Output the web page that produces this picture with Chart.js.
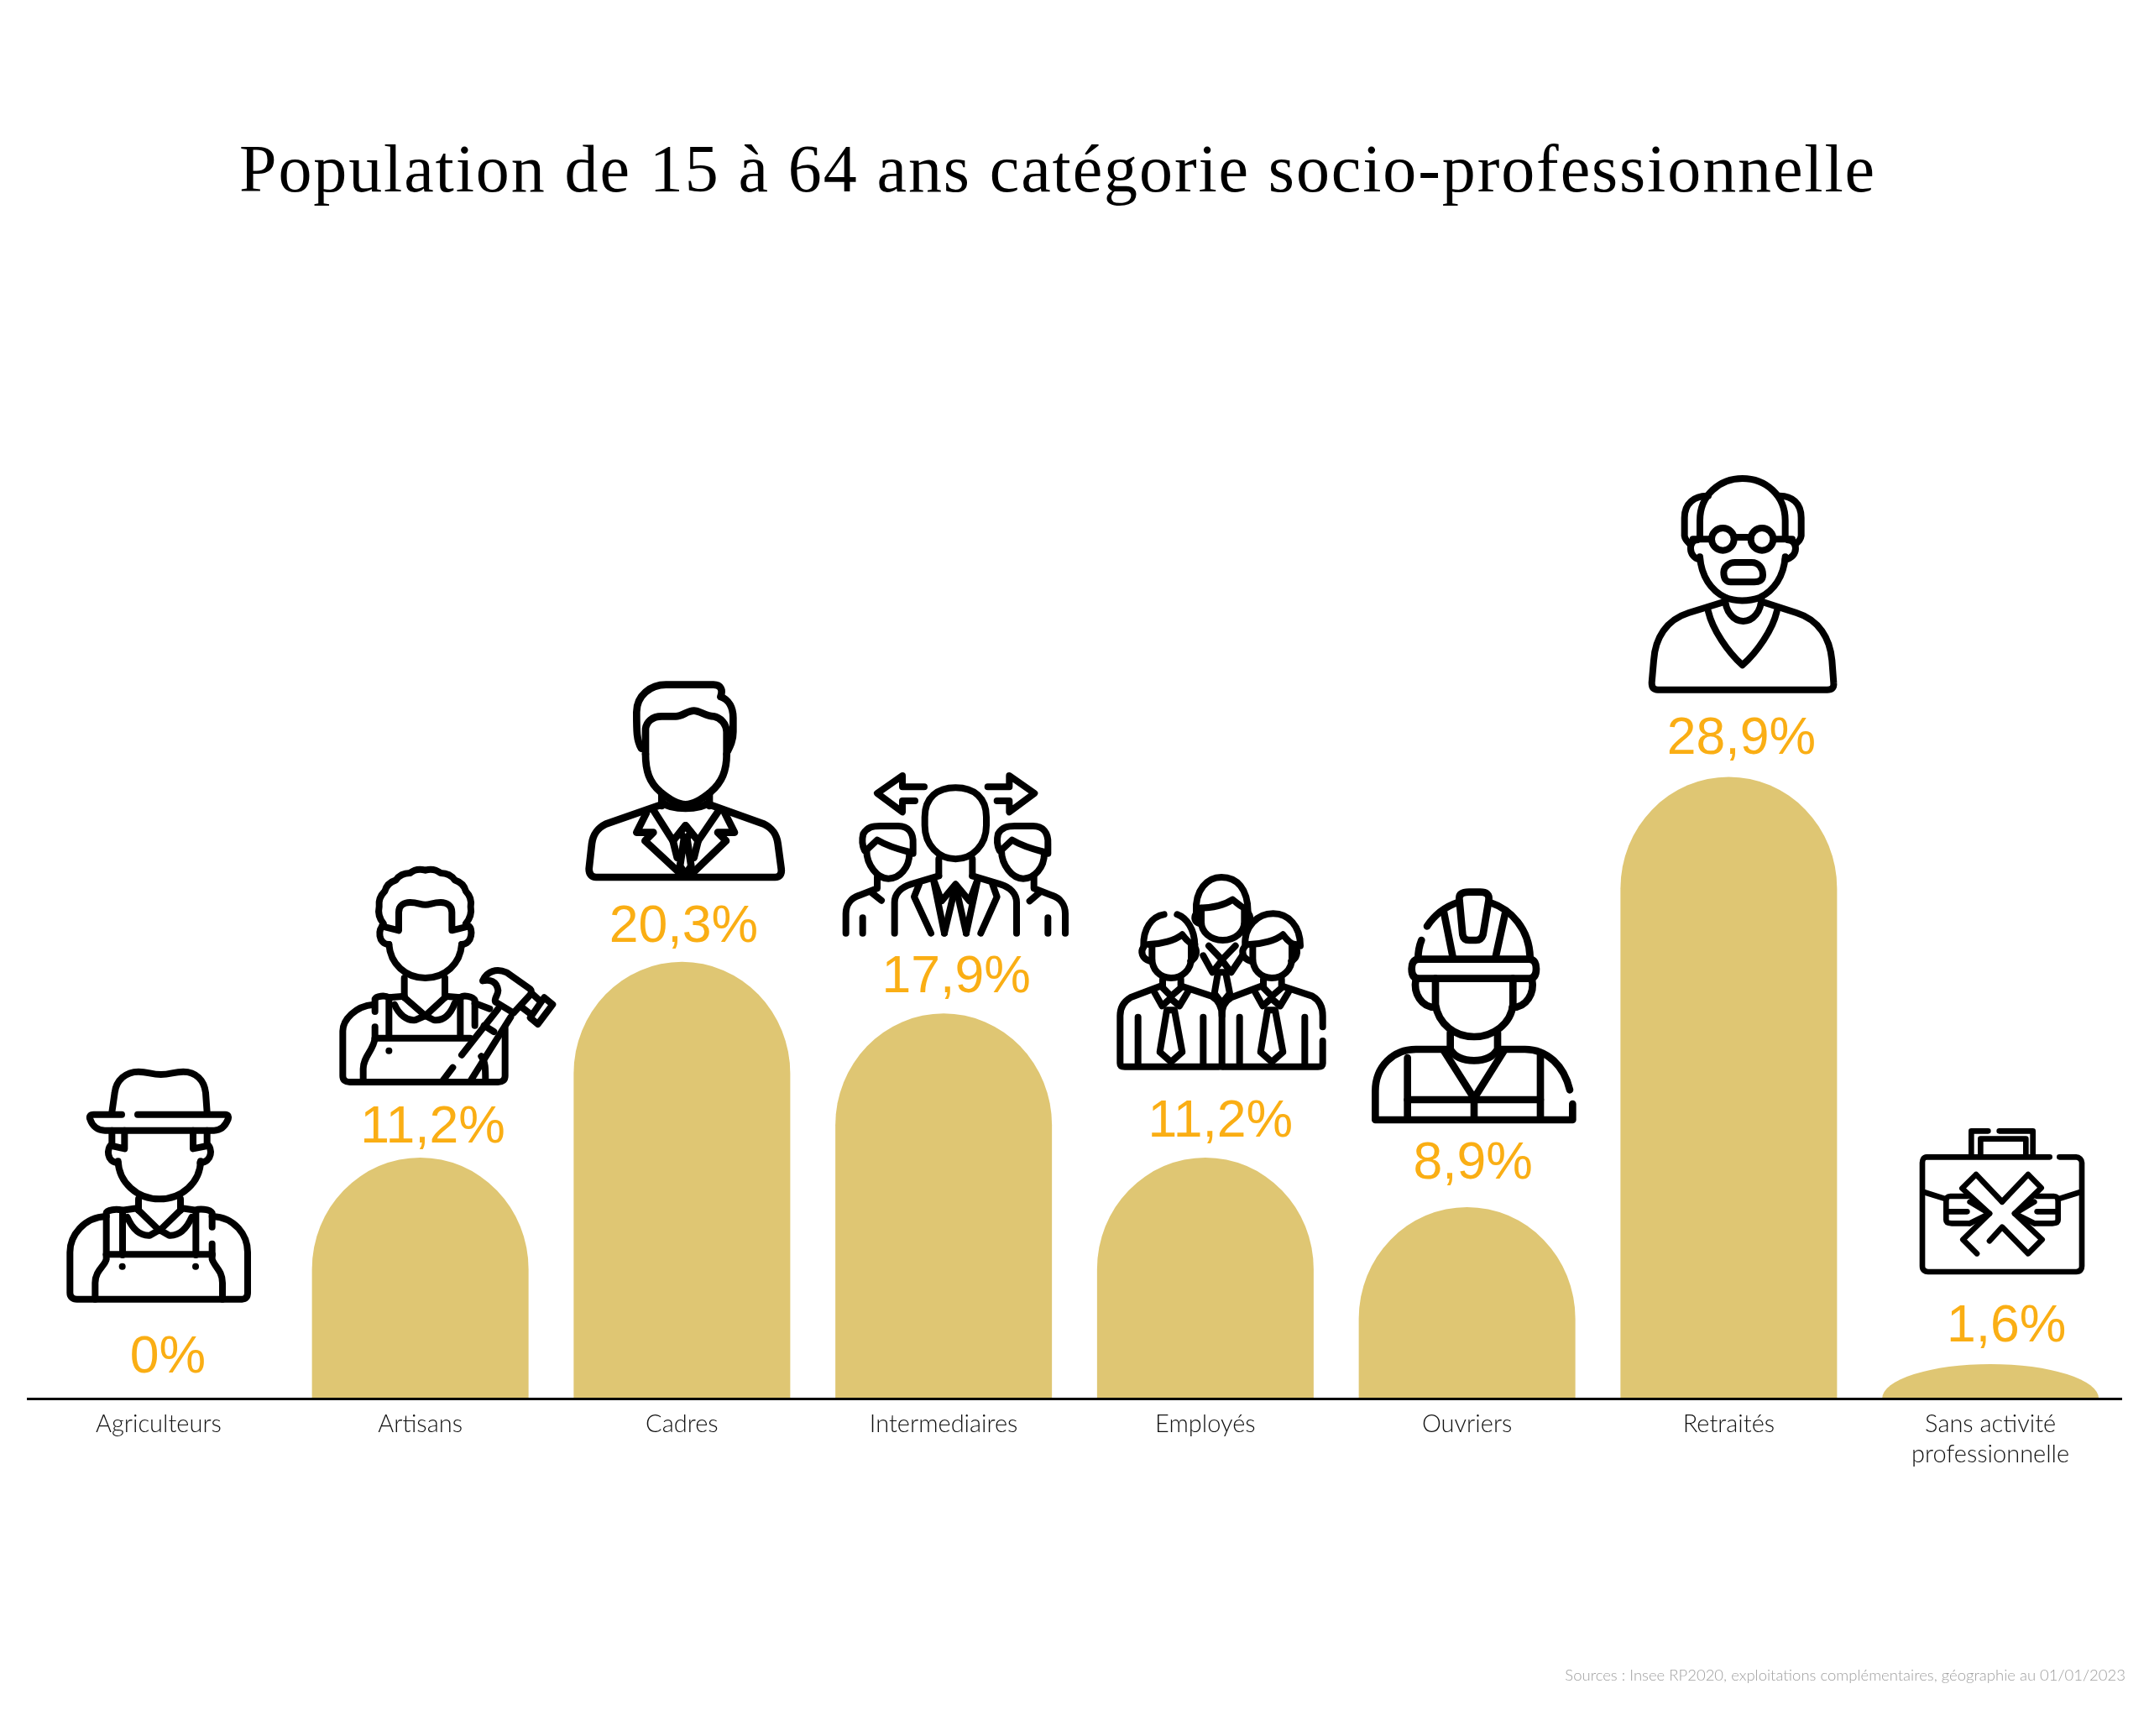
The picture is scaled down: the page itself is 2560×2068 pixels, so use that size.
<!DOCTYPE html>
<html lang="fr"><head><meta charset="utf-8">
<style>html,body{margin:0;padding:0;background:#fff}canvas{display:block}</style>
<script src="https://cdn.jsdelivr.net/npm/chart.js@4"></script>
</head><body><canvas id="c" width="2560" height="2068"></canvas>
<script>
const titleText = "Population de 15 à 64 ans catégorie socio-professionnelle";
const sourceText = "Sources : Insee RP2020, exploitations complémentaires, géographie au 01/01/2023";
const categories = ["Agriculteurs","Artisans","Cadres","Intermediaires","Employés","Ouvriers","Retraités",["Sans activité","professionnelle"]];
const shares = [0,11.2,20.3,17.9,11.2,8.9,28.9,1.6];

/* label placement relative to each bar */
const labelShiftX = [11,15,2,15,18,7,15,19];
const labelGapY = [31,18,24,25,25,34,27,27];

const GOLD="#DFC673", AMBER="#FAAE14";

/* line icons: crop origin on the page, drawn at 1/3 scale */
const icons = [
 {x:70,y:1265,lw:24,d:[
  "M190 180 L200 110 C205 65 240 35 285 35 C320 35 330 45 365 45 C400 45 410 35 445 35 C490 35 520 65 525 110 L530 180",
  "M225 188 H125 C112 188 108 195 112 205 C120 230 140 245 165 245 H555 C580 245 595 230 605 205 C608 195 605 188 595 188 H282",
  "M190 245 V300 L235 310 V245","M530 245 V300 L480 310 V245",
  "M190 295 C170 305 170 360 212 360","M530 295 C550 305 550 360 505 360",
  "M212 355 C215 430 280 490 360 490 C440 490 505 430 507 355",
  "M285 490 V530","M435 490 V530",
  "M285 530 L360 603 L435 530",
  "M245 555 C265 600 290 622 325 620 L355 603","M475 555 C455 600 430 622 395 620 L365 603",
  "M170 690 V540 C172 528 205 525 228 530 L285 522","M228 530 V690",
  "M435 522 L490 530 C500 525 540 525 548 540 V590","M490 530 V690","M548 650 V690",
  "M170 552 C90 555 40 620 40 680 V825 C40 840 50 848 65 848 H655 C668 848 675 840 675 825 V680 C675 620 630 555 548 552",
  "M170 688 H548",
  "M170 688 V705 C165 730 130 745 130 790 V848","M548 688 V705 C555 730 585 745 585 790 V848",
  "M227 731 h0.1","M489 731 h0.1"]},
 {x:400,y:1025,lw:24,d:[
  "M170 225 Q148 198 155 165 Q151 134 175 110 Q183 80 215 70 Q232 45 265 45 Q289 26 320 35 Q350 26 375 45 Q408 45 425 70 Q457 80 465 110 Q488 134 482 165 Q488 198 465 225",
  "M165 235 L225 250 V185 C225 160 245 150 265 150 C295 150 300 158 320 158 C340 158 345 150 375 150 C395 150 415 160 415 185 V250 L475 235",
  "M170 235 C150 240 150 300 190 300","M475 235 C490 240 490 300 450 300",
  "M190 300 C195 370 250 420 320 420 C390 420 445 370 450 300",
  "M245 420 V490","M390 420 V490",
  "M245 490 L320 555 L390 490",
  "M210 515 C225 550 255 575 285 570 L320 555","M425 510 C410 550 385 575 350 570 L320 555",
  "M140 540 V495 C145 485 175 480 190 490 L245 485","M190 490 V630","M140 595 V635",
  "M390 485 L445 490 C455 480 490 485 497 500 V590","M445 490 V630","M497 510 L550 530",
  "M135 515 C70 520 25 570 25 610 V770 C25 785 35 792 50 792 H580 C595 792 605 785 605 770 V600",
  "M140 635 H480",
  "M140 635 C135 680 98 700 98 745 V792",
  "M190 680 h0.1","M520 700 C535 720 535 740 535 792",
  "M580 530 L450 695","M418 740 L380 790","M625 560 L480 790","M530 590 L565 612",
  "M525 430 C540 395 575 385 610 400 L695 460 C700 465 700 470 695 480 L635 545 L570 505 C565 495 580 480 580 465 C575 430 550 425 525 430 Z",
  "M745 490 L775 515 L722 585 L695 562 Z","M700 475 L728 500","M665 525 L698 550"]},
 {x:690,y:805,lw:26,d:[
  "M222 260 C205 230 205 200 205 130 C205 70 255 32 310 32 H480 C505 32 515 50 505 75 C535 85 550 115 550 150 V200 C550 230 540 250 530 270",
  "M237 280 V190 C240 165 260 145 295 145 H345 C370 145 385 125 410 125 C430 125 455 145 480 145 C505 150 525 170 527 200 V280",
  "M237 280 C237 340 250 380 290 415 C320 440 350 460 380 460 C410 460 440 440 470 415 C510 380 527 340 527 280",
  "M295 420 V465","M465 420 V465",
  "M295 460 L95 530 C65 545 50 565 45 600 L35 690 C35 710 45 720 60 720 H700 C715 720 725 710 722 690 L710 600 C705 565 690 545 660 530 L465 460",
  "M240 490 L205 560 H265 L235 590 L370 715","M520 490 L555 560 H495 L525 590 L395 715",
  "M265 480 L335 590 L380 535 L425 590 L500 480",
  "M380 535 L360 560 L375 580 L360 680 L380 710 L400 680 L385 580 L400 560 Z",
  "M335 590 L350 650","M425 590 L410 650",
  "M300 455 C330 480 430 480 460 455"]},
 {x:995,y:910,lw:24,d:[
  "M318 82 H240 V42 L150 105 L240 172 V132 H285","M545 82 H622 V42 L712 105 L622 172 V132 H578",
  "M320 190 C320 120 365 85 430 85 C495 85 540 120 540 190 V220 C540 290 490 340 430 340 C370 340 320 290 320 220 Z",
  "M370 340 V400","M490 340 V400",
  "M370 400 L270 430 C235 440 212 465 212 495 V605","M490 400 L590 430 C625 440 648 465 648 495 V605",
  "M300 430 L282 475 L342 605","M562 430 L578 475 L520 605",
  "M350 410 L390 605","M510 410 L468 605",
  "M350 410 L380 490 L430 430 L480 490 L510 410",
  "M430 435 L390 605","M430 435 L468 605",
  "M105 310 C95 290 95 270 100 250 C115 225 135 222 160 222 H225 C260 222 280 245 278 285 V320 L265 315 C225 305 180 290 150 272 L115 305",
  "M112 310 C112 360 150 410 190 410 C230 410 265 370 265 320",
  "M150 405 V445 L85 470 C55 480 38 505 38 535 V605","M130 460 L165 488","M98 550 V605",
  "M587 310 C577 290 577 270 582 250 C597 225 617 222 642 222 H707 C742 222 762 245 760 285 V320 L747 315 C707 305 662 290 632 272 L597 305",
  "M594 310 C594 360 632 410 672 410 C712 410 747 370 747 320",
  "M710 405 V445 L775 470 C805 480 822 505 822 535 V605","M695 490 L730 460","M760 550 V605"]},
 {x:1325,y:1030,lw:24,d:[
  "M300 170 C295 90 340 45 390 45 C445 45 485 85 485 170",
  "M310 155 C360 155 400 145 430 125 C450 140 465 155 475 155",
  "M318 155 V205 C318 240 350 270 395 270 C440 270 472 240 472 205 V160",
  "M300 175 C290 190 295 205 310 210","M487 175 C497 190 492 205 478 210",
  "M345 290 L392 340 L440 290","M325 325 L358 385 L392 342 L425 385 L465 325",
  "M378 385 H405 L420 460 L392 495 L365 460 Z",
  "M185 178 C140 185 110 230 112 290","M232 178 C265 190 295 230 295 290",
  "M130 285 C175 285 225 270 250 250 C265 270 280 285 295 285",
  "M142 285 V335 C142 375 170 405 210 405 C250 405 282 375 282 335 V285",
  "M112 295 C100 310 105 335 135 345","M295 295 C305 310 300 335 280 345",
  "M180 410 V440 L210 470 L245 440 V410","M150 455 L178 505 L208 478 L240 505 L270 455",
  "M195 520 H222 L250 670 L210 705 L170 670 Z",
  "M170 435 L65 475 C40 490 28 510 28 540 V710 C28 720 35 722 45 722 H380",
  "M250 435 L355 470 C380 485 392 510 392 540 V722","M92 545 V715","M325 545 V715",
  "M475 290 C470 220 520 175 575 175 C630 175 672 220 672 290",
  "M490 285 C535 285 585 270 610 250 C625 270 640 285 655 285",
  "M502 285 V335 C502 375 530 405 570 405 C610 405 642 375 642 335 V285",
  "M472 295 C460 310 465 335 495 345","M655 295 C665 310 660 335 640 345",
  "M540 410 V440 L570 470 L605 440 V410","M510 455 L538 505 L568 478 L600 505 L630 455",
  "M555 520 H582 L610 670 L570 705 L530 670 Z",
  "M530 435 L425 475 C400 490 392 510 392 540",
  "M610 435 L715 470 C740 485 752 510 752 540 V580","M752 630 V710 C752 720 745 722 735 722 H400",
  "M455 545 V715","M688 545 V715"]},
 {x:1630,y:1050,lw:26,d:[
  "M210 160 C240 115 275 90 320 75","M435 75 C510 100 575 170 578 270","M190 210 C180 235 178 255 178 275",
  "M325 60 C325 40 345 38 360 38 H400 C420 38 435 45 430 70 L410 190 C405 205 395 210 385 210 H360 C350 210 340 205 337 190 Z",
  "M270 110 L302 270","M490 110 L455 270",
  "M180 278 H575 C595 278 600 295 600 312 C600 330 595 347 575 347 H180 C160 347 155 330 155 312 C155 295 160 278 180 278 Z",
  "M170 350 C160 400 190 450 240 450","M585 350 C595 400 565 450 515 450",
  "M240 347 V440 C250 510 310 555 378 555 C445 555 510 510 517 440 V347",
  "M293 540 V600 C310 630 345 640 378 640 C410 640 445 630 462 600 V540",
  "M285 600 H170 C90 600 25 660 25 750 V852 H730 V795","M462 600 H560 C640 600 700 660 720 745",
  "M270 605 L378 775 L485 605","M140 780 H615","M140 630 V850","M615 620 V850","M378 775 V850"]},
 {x:1955,y:560,lw:24,d:[
  "M210 235 V180 C210 90 280 30 362 30 C445 30 515 90 515 180 V235",
  "M240 92 C190 90 155 120 155 170 V235 C157 250 170 260 175 265","M490 92 C540 90 572 120 572 170 V235 C570 250 558 260 550 265",
  "M332 247 A40 40 0 1 1 252 247 A40 40 0 1 1 332 247 Z","M472 247 A40 40 0 1 1 392 247 A40 40 0 1 1 472 247 Z",
  "M332 240 H392","M185 247 H250","M475 247 H540",
  "M200 250 C170 250 165 310 210 320","M525 250 C560 250 565 310 515 320",
  "M210 310 C215 380 250 430 300 455 C335 470 385 470 425 455 C475 430 510 380 515 310",
  "M295 365 C295 345 315 330 335 330 H395 C420 330 435 350 435 375 C435 395 420 400 405 400 H320 C305 400 295 390 295 365 Z",
  "M300 455 C300 505 330 540 365 540 C400 540 430 505 430 455",
  "M300 470 L170 510 C90 535 50 600 45 680 L38 760 C38 780 48 785 60 785 H665 C680 785 690 780 688 760 L682 680 C675 600 635 535 555 510 L430 470",
  "M240 505 C255 570 310 650 362 697 C415 650 470 570 485 505"]},
 {x:2200,y:1300,lw:20,d:[
  "M445 230 V142 H505","M545 142 H665 V230","M478 230 V170 H640 V230",
  "M725 235 H285 C275 235 270 245 270 255 V625 C270 640 280 645 290 645 H820 C835 645 840 635 840 625 V255 C840 245 830 235 820 235 H760",
  "M275 360 L355 385","M835 360 L755 385",
  "M430 375 H370 C355 375 355 385 355 395 V460 C355 470 365 472 375 472 H440","M360 430 H430",
  "M440 395 L510 437 L440 472",
  "M680 375 H740 C755 375 755 385 755 395 V460 C755 470 745 472 735 472 H670","M750 430 H680",
  "M670 395 L600 437 L670 472",
  "M555 395 L462 297 L412 347 L510 437 L415 530 L465 580",
  "M510 535 L555 485 L648 580 L698 530 L600 437 L695 345 L648 297 L555 395"]}
];

/* dome-topped bars: geometry comes from the element Chart.js computed */
Chart.BarElement.prototype.draw = function(ctx){
  const {x,y,base,width} = this.getProps(['x','y','base','width']);
  const h = base - y;
  if (h <= 0) return;
  const rx = width/2, ry = Math.min(h, 133);
  ctx.save();
  ctx.fillStyle = this.options.backgroundColor;
  ctx.beginPath();
  ctx.moveTo(x-rx, base);
  ctx.lineTo(x-rx, y+ry);
  ctx.ellipse(x, y+ry, rx, ry, 0, Math.PI, 2*Math.PI);
  ctx.lineTo(x+rx, base);
  ctx.closePath();
  ctx.fill();
  ctx.restore();
};

const decor = {
  id:'decor',
  afterDatasetsDraw(chart){
    const ctx = chart.ctx;
    const els = chart.getDatasetMeta(0).data;
    ctx.save();
    /* value labels */
    ctx.font = '62.5px "Liberation Sans"';
    ctx.fillStyle = AMBER;
    ctx.textAlign = 'center';
    ctx.textBaseline = 'alphabetic';
    els.forEach((el,i)=>{
      ctx.fillText(String(shares[i]).replace('.',',')+'%', el.x+labelShiftX[i], el.y-labelGapY[i]);
    });
    /* title */
    ctx.font = '80px "Liberation Serif"';
    ctx.letterSpacing = '1.9px';
    ctx.fillStyle = '#000';
    ctx.fillText(titleText, 1260, 228);
    ctx.letterSpacing = '0px';
    /* source */
    ctx.font = '300 18.5px Lato';
    ctx.fillStyle = '#a0a0a0';
    ctx.textAlign = 'right';
    ctx.textBaseline = 'middle';
    ctx.fillText(sourceText, 2532, 1996);
    ctx.restore();
    /* icons */
    icons.forEach(ic=>{
      ctx.save();
      ctx.translate(ic.x, ic.y);
      ctx.scale(1/3,1/3);
      ctx.strokeStyle='#000';
      ctx.lineWidth=ic.lw;
      ctx.lineCap='round';
      ctx.lineJoin='round';
      ic.d.forEach(s=>ctx.stroke(new Path2D(s)));
      ctx.restore();
    });
  }
};

new Chart(document.getElementById('c'),{
  type:'bar',
  data:{labels:categories,datasets:[{data:shares,backgroundColor:GOLD,barThickness:258}]},
  plugins:[decor],
  options:{
    responsive:false,animation:false,devicePixelRatio:1,
    layout:{padding:{left:33,right:33,top:641,bottom:0}},
    plugins:{legend:{display:false},tooltip:{enabled:false},title:{display:false}},
    scales:{
      x:{
        afterFit(s){s.height=402;},
        grid:{display:false,drawTicks:false},
        border:{display:true,color:'#000',width:3,z:1},
        ticks:{color:'#111',padding:13,maxRotation:0,autoSkip:false,font:{family:'Lato',weight:'300',size:29,lineHeight:1.24}}
      },
      y:{display:false,min:0,max:40}
    }
  }
});
</script></body></html>
